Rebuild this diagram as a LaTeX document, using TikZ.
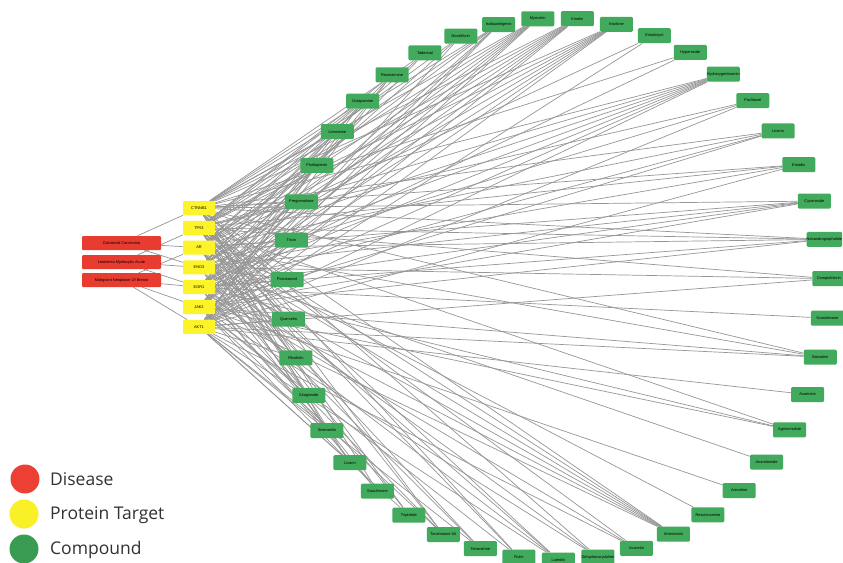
\documentclass[tikz,border=0pt]{standalone}
\usepackage{fontspec}
\setmainfont{Open Sans}
\newfontfamily\tinyfont{Liberation Sans}
\pgfdeclarelayer{back}
\pgfdeclarelayer{bg}
\pgfsetlayers{back,bg,main}
\definecolor{disred}{RGB}{232,60,48}
\definecolor{protyel}{RGB}{252,244,40}
\definecolor{cmpgreen}{RGB}{66,170,92}
\definecolor{legred}{RGB}{236,64,52}
\definecolor{legyel}{RGB}{250,240,40}
\definecolor{leggreen}{RGB}{58,156,82}
\definecolor{edgegray}{RGB}{150,150,150}
\definecolor{legtext}{RGB}{50,50,50}
\tikzset{
  cmp/.style={fill=cmpgreen, rounded corners=1.2pt, minimum width=33pt, minimum height=15pt, inner sep=0pt, font=\tinyfont\fontsize{3.9}{4.5}\selectfont, text=black},
  prot/.style={fill=protyel, rounded corners=1pt, minimum width=32pt, minimum height=14pt, inner sep=0pt, font=\tinyfont\fontsize{3.9}{4.5}\selectfont, text=black},
  dis/.style={fill=disred, rounded corners=1pt, minimum width=79pt, minimum height=14pt, inner sep=0pt, font=\tinyfont\fontsize{3.9}{4.5}\selectfont, text=black},
  edge/.style={draw=edgegray, line width=0.7pt},
  legdot/.style={circle, minimum size=29pt, inner sep=0pt},
  legtxt/.style={anchor=west, inner sep=0pt, font=\fontsize{17.5}{20}\selectfont, text=legtext}
}
\begin{document}
\begin{tikzpicture}[x=1pt,y=-1pt]
\useasboundingbox (0,0) rectangle (843,562);
\begin{pgfonlayer}{back}
\fill[white] (0,0) rectangle (843,562);
\end{pgfonlayer}
% diseases
\node[dis] (d1) at (121.5,243) {Colorectal Carcinoma};
\node[dis] (d2) at (121.5,262) {Leukemia Myelocytic Acute};
\node[dis] (d3) at (121.5,280) {Malignant Neoplasm Of Breast};
% proteins
\foreach \i/\t in {1/CTNNB1,2/TP53,3/AR,4/ENO3,5/EGR1,6/JAK2,7/AKT1}
  \node[prot] (p\i) at (199,{208+(\i-1)*19.8}) {\t};
% compounds on a circle
\foreach \k/\t in {0/Piceatannol,1/Tricin,2/Pregnenolone,3/Phellopterin,4/Liensinine,5/Octopamine,6/Rosmarinine,7/Tadeonal,8/Nicotiflorin,9/Isoliquiritigenin,10/Myricetin,11/Kinetin,12/Irisolone,13/Eriodictyol,14/Hyperoside,15/Hydroxygenkwanin,16/Paclitaxel,17/Linarin,18/Emodin,19/Cynaroside,20/Neoandrographolide,21/Camptothecin,22/Scandenone,23/Baicalein,24/Asarinine,25/Agrimonolide,26/Anandamide,27/Arecoline,28/Rescinnamine,29/Artemisinin,30/Acacetin,31/Dehydrocorydaline,32/Luteolin,33/Rutin,34/Tetrandrine,35/Tanshinone IIA,36/Triptolide,37/Sauchinone,38/Licarin,39/Sinensetin,40/Sitogluside,41/Rhoifolin,42/Quercetin}
  \node[cmp] (c\k) at ({558+271*cos(178-\k*360/43)},{289-271*sin(178-\k*360/43)}) {\t};
\begin{pgfonlayer}{bg}
\foreach \d/\ps in {1/{1,3,4},2/{2,4,5},3/{3,5,6,7}}
  \foreach \p in \ps \draw[edge] (d\d) -- (p\p);
\foreach \k/\ps in {0/{1,2,3,4,5,6,7},1/{1,3,5,7},2/{1,2,4,6},3/{2,3,5,7},4/{1,4,6},5/{1,2,3,5,7},6/{2,4,6,7},7/{1,3,5},8/{2,4,7},9/{1,2,3,5,6,7},10/{1,2,3,4,5,6,7},11/{1,2,3,4,5,6,7},12/{1,2,3,4,5,6,7},13/{3,7},14/{1,5},15/{1,2,3,4,5,6,7},16/{2,4,7},17/{1,3,5,6},18/{1,2,4,7},19/{1,3,4,5,6},20/{1,2,3,5,6},21/{2,4,7},22/{5},23/{1,3,6,7},24/{7},25/{2,5,6},26/{4},27/{6},28/{3},29/{1,2,3,4,5,6},30/{2,5,7},31/{1,4,6},32/{2,3,5,7},33/{1,2,6},34/{3,4,7},35/{1,2,5,6},36/{2,3,7},37/{1,4,5},38/{2,3,6,7},39/{1,3,5,7},40/{2,4,6},41/{1,3,5,7},42/{1,2,4,6,7}}
  \foreach \p in \ps \draw[edge] (p\p) -- (c\k);
\end{pgfonlayer}
% legend
\node[legdot, fill=legred] (l1) at (25,479) {};
\node[legdot, fill=legyel] (l2) at (24,514) {};
\node[legdot, fill=leggreen] (l3) at (24,549) {};
\node[legtxt] (t1) at (50,479) {Disease};
\node[legtxt] (t2) at (50,515) {Protein Target};
\node[legtxt] (t3) at (50,550) {Compound};
\end{tikzpicture}
\end{document}
